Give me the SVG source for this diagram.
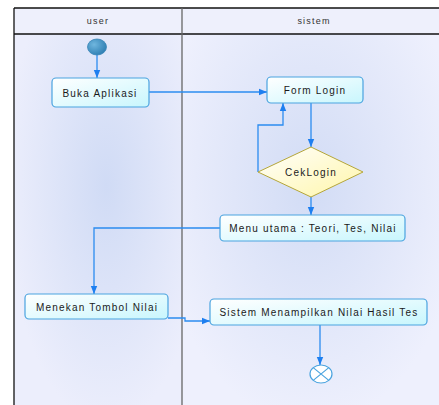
<svg xmlns="http://www.w3.org/2000/svg" width="439" height="405" viewBox="0 0 439 405">
<style>
.t{font-family:"Liberation Sans",Arial,sans-serif;font-size:10px;fill:#1a1a1a;text-anchor:middle;dominant-baseline:central;letter-spacing:1.2px}
.h{font-family:"Liberation Sans",Arial,sans-serif;font-size:9px;fill:#333;text-anchor:middle;dominant-baseline:central;letter-spacing:1.2px}
.box{fill:url(#bg);stroke:#4aa3df;stroke-width:1.2}
.c{fill:none;stroke:#2b8cf0;stroke-width:1.3}
</style>
<defs>
<linearGradient id="bg" x1="0" y1="0" x2="1" y2="1">
<stop offset="0" stop-color="#ffffff"/><stop offset="1" stop-color="#c8f6fd"/>
</linearGradient>
<linearGradient id="dg" x1="0" y1="0" x2="1" y2="1">
<stop offset="0" stop-color="#ffffff"/><stop offset="1" stop-color="#fff6a8"/>
</linearGradient>
<radialGradient id="lane1" cx="0.55" cy="0.45" r="0.6">
<stop offset="0" stop-color="#d0dbf5"/><stop offset="1" stop-color="#eceefc"/>
</radialGradient>
<radialGradient id="lane2" cx="0.5" cy="0.45" r="0.6">
<stop offset="0" stop-color="#d2dcf5"/><stop offset="1" stop-color="#eef0fd"/>
</radialGradient>
<radialGradient id="sc" cx="0.35" cy="0.35" r="0.7">
<stop offset="0" stop-color="#6fb6de"/><stop offset="1" stop-color="#2f7fb3"/>
</radialGradient>
<marker id="a" viewBox="0 0 10 10" refX="10" refY="5" markerWidth="8" markerHeight="8" orient="auto" markerUnits="userSpaceOnUse">
<path d="M0,1 L10,5 L0,9 Z" fill="#1e7ff0"/>
</marker>
</defs>
<rect x="0" y="0" width="439" height="405" fill="#ffffff"/>
<g id="lanes">
<rect x="14" y="8" width="168" height="397" fill="url(#lane1)"/>
<rect x="182" y="8" width="257" height="397" fill="url(#lane2)"/>
<rect x="14" y="8" width="425" height="26" fill="#eef0fc"/>
<line x1="14" y1="8" x2="439" y2="8" stroke="#111" stroke-width="1.3"/>
<line x1="14" y1="34" x2="439" y2="34" stroke="#111" stroke-width="1.3"/>
<line x1="14" y1="8" x2="14" y2="405" stroke="#111" stroke-width="1.3"/>
<line x1="182" y1="8" x2="182" y2="405" stroke="#666" stroke-width="1.3"/>
<text class="h" x="98" y="21">user</text>
<text class="h" x="314" y="21">sistem</text>
</g>
<g id="connectors">
<path class="c" d="M97,55 V78" marker-end="url(#a)"/>
<path class="c" d="M149,92 H267" marker-end="url(#a)"/>
<path class="c" d="M311,103 V147" marker-end="url(#a)"/>
<path class="c" d="M258,172 V125 H283 V103" marker-end="url(#a)"/>
<path class="c" d="M311,197 V215" marker-end="url(#a)"/>
<path class="c" d="M220,228 H94 V294" marker-end="url(#a)"/>
<path class="c" d="M168,318 H185 V321 H210" marker-end="url(#a)"/>
<path class="c" d="M320,325 V365" marker-end="url(#a)"/>
</g>
<g id="start"><ellipse cx="97" cy="47" rx="9.5" ry="8" fill="url(#sc)" stroke="#3a86b8" stroke-width="0.8"/></g>
<g id="buka"><rect class="box" x="52" y="78" width="97" height="29" rx="4"/><text class="t" x="100" y="93">Buka Aplikasi</text></g>
<g id="formlogin"><rect class="box" x="267" y="77" width="96" height="26" rx="4"/><text class="t" x="315" y="90">Form Login</text></g>
<g id="ceklogin"><polygon points="311,147 363,172 311,197 258,172" fill="url(#dg)" stroke="#b5a63a" stroke-width="1"/><text class="t" x="311" y="172">CekLogin</text></g>
<g id="menu"><rect class="box" x="220" y="215" width="185" height="26" rx="4"/><text class="t" x="313" y="228">Menu utama : Teori, Tes, Nilai</text></g>
<g id="menekan"><rect class="box" x="25" y="294" width="143" height="25" rx="4"/><text class="t" x="97" y="307">Menekan Tombol Nilai</text></g>
<g id="sistem"><rect class="box" x="210" y="299" width="217" height="26" rx="4"/><text class="t" x="319" y="312">Sistem Menampilkan Nilai Hasil Tes</text></g>
<g id="end"><ellipse cx="321" cy="374" rx="11" ry="9" fill="#ffffff" stroke="#4aa3df" stroke-width="1.2"/><path d="M313.2,367.6 L328.8,380.4 M328.8,367.6 L313.2,380.4" stroke="#4aa3df" stroke-width="1.2"/></g>
</svg>
